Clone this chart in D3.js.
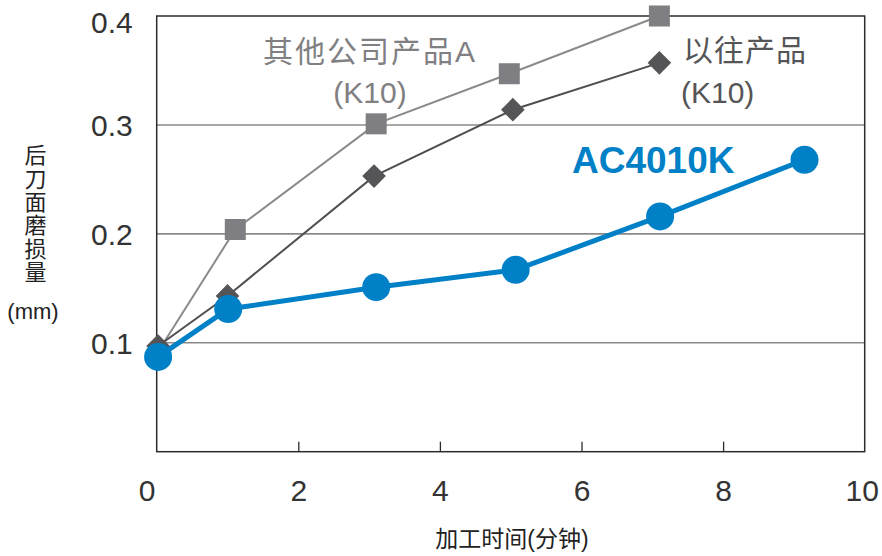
<!DOCTYPE html>
<html>
<head>
<meta charset="utf-8">
<script src="https://cdn.jsdelivr.net/npm/d3@7"></script>
<style>
  body { margin: 0; background: #fff; }
  text { font-family: "Liberation Sans", Arial, "Noto Sans CJK SC", sans-serif; }
  .cjk { font-family: "Liberation Sans", "Noto Sans CJK SC", sans-serif; }
</style>
</head>
<body>
<div id="chart"></div>
<script>
// Data
const xTicks = [0, 2, 4, 6, 8, 10];
const yTicks = [0.1, 0.2, 0.3, 0.4];

const otherX = [0.05, 1.11, 3.1, 4.98, 7.1];
const otherY = [0.095, 0.204, 0.301, 0.347, 0.4];

const oldX = [0.02, 1.0, 3.07, 5.03, 7.1];
const oldY = [0.097, 0.143, 0.253, 0.314, 0.357];

const acX = [0.02, 1.01, 3.1, 5.07, 7.11, 9.15];
const acY = [0.087, 0.131, 0.151, 0.167, 0.216, 0.268];

const width = 882;
const height = 556;
const plotLeft = 156.7, plotRight = 864.7, plotTop = 16, plotBottom = 451.7;

const svg = d3.select("#chart")
  .append("svg")
  .attr("width", width)
  .attr("height", height);

const x = d3.scaleLinear().domain([0, 10]).range([plotLeft, plotRight]);
const y = d3.scaleLinear().domain([0, 0.4]).range([plotBottom, plotTop]);

// Horizontal grid lines
svg.selectAll("line.grid")
  .data(yTicks.filter((d) => d < 0.4))
  .enter()
  .append("line")
  .attr("class", "grid")
  .attr("x1", plotLeft)
  .attr("x2", plotRight)
  .attr("y1", (d) => y(d))
  .attr("y2", (d) => y(d))
  .attr("stroke", "#8a8a8a")
  .attr("stroke-width", 1.6);

// Frame
svg.append("rect")
  .attr("x", plotLeft)
  .attr("y", plotTop)
  .attr("width", plotRight - plotLeft)
  .attr("height", plotBottom - plotTop)
  .attr("fill", "none")
  .attr("stroke", "#2b2b2b")
  .attr("stroke-width", 1.5);

// Bottom axis: inward ticks
const xAxis = svg.append("g")
  .attr("transform", `translate(0,${plotBottom})`)
  .call(d3.axisBottom(x).tickValues(xTicks).tickSize(-10).tickPadding(28).tickFormat(d3.format("d")));
xAxis.select(".domain").remove();
xAxis.selectAll(".tick line")
  .attr("stroke", "#2b2b2b")
  .attr("stroke-width", 1.3)
  .attr("opacity", (d) => (d === 0 || d === 10 ? 0 : 1));
xAxis.selectAll(".tick text")
  .attr("font-size", 30)
  .attr("fill", "#333")
  .attr("font-family", "Liberation Sans, Arial, sans-serif")
  .attr("dx", (d) => (d === 0 ? -10 : d === 10 ? -3 : 0));

// Left axis labels
const yAxis = svg.append("g")
  .attr("transform", `translate(${plotLeft},0)`)
  .call(d3.axisLeft(y).tickValues(yTicks).tickSize(0).tickPadding(24).tickFormat(d3.format(".1f")));
yAxis.select(".domain").remove();
yAxis.selectAll(".tick text")
  .attr("font-size", 30)
  .attr("fill", "#333")
  .attr("font-family", "Liberation Sans, Arial, sans-serif")
  .attr("dy", (d) => (d === 0.4 ? "0.55em" : "0.36em"));

// Axis titles
svg.append("text")
  .attr("class", "cjk")
  .attr("x", 512)
  .attr("y", 547)
  .attr("text-anchor", "middle")
  .attr("font-size", 23)
  .attr("fill", "#222")
  .text("加工时间(分钟)");

// Vertical y title as one text run
svg.append("text")
  .attr("class", "cjk")
  .attr("x", 33)
  .attr("y", 144)
  .attr("font-size", 22)
  .attr("letter-spacing", 1.3)
  .attr("fill", "#222")
  .style("writing-mode", "vertical-rl")
  .style("text-orientation", "upright")
  .text("后刀面磨损量");

svg.append("text")
  .attr("x", 33)
  .attr("y", 319)
  .attr("text-anchor", "middle")
  .attr("font-size", 22)
  .attr("fill", "#222")
  .text("(mm)");

const line = d3.line().x((d) => x(d[0])).y((d) => y(d[1]));

// Other company product A (K10): grey squares
const otherPts = otherX.map((d, i) => [d, otherY[i]]);
svg.append("path")
  .datum(otherPts)
  .attr("d", line)
  .attr("fill", "none")
  .attr("stroke", "#8a8a8c")
  .attr("stroke-width", 2);
svg.selectAll("rect.other")
  .data(otherPts.slice(1))
  .enter()
  .append("rect")
  .attr("class", "other")
  .attr("x", (d) => x(d[0]) - 10.5)
  .attr("y", (d) => y(d[1]) - 10.5)
  .attr("width", 21)
  .attr("height", 21)
  .attr("fill", "#7f7f83");

// Previous product (K10): dark diamonds
const oldPts = oldX.map((d, i) => [d, oldY[i]]);
svg.append("path")
  .datum(oldPts)
  .attr("d", line)
  .attr("fill", "none")
  .attr("stroke", "#4f4f51")
  .attr("stroke-width", 2);
svg.selectAll("path.old")
  .data(oldPts)
  .enter()
  .append("path")
  .attr("class", "old")
  .attr("d", d3.symbol().type(d3.symbolSquare).size(280))
  .attr("transform", (d) => `translate(${x(d[0])},${y(d[1])}) rotate(45)`)
  .attr("fill", "#555557");

// AC4010K: blue circles
const acPts = acX.map((d, i) => [d, acY[i]]);
svg.append("path")
  .datum(acPts)
  .attr("d", line)
  .attr("fill", "none")
  .attr("stroke", "#0080c6")
  .attr("stroke-width", 5);
svg.selectAll("circle.ac")
  .data(acPts)
  .enter()
  .append("circle")
  .attr("class", "ac")
  .attr("cx", (d) => x(d[0]))
  .attr("cy", (d) => y(d[1]))
  .attr("r", 14)
  .attr("fill", "#0080c6");

// Series labels
svg.append("text")
  .attr("class", "cjk")
  .attr("x", 370)
  .attr("y", 62)
  .attr("text-anchor", "middle")
  .attr("font-size", 30)
  .attr("letter-spacing", 2)
  .attr("fill", "#808083")
  .text("其他公司产品A");
svg.append("text")
  .attr("x", 370)
  .attr("y", 103)
  .attr("text-anchor", "middle")
  .attr("font-size", 30)
  .attr("fill", "#808083")
  .text("(K10)");

svg.append("text")
  .attr("class", "cjk")
  .attr("x", 683)
  .attr("y", 61)
  .attr("font-size", 30)
  .attr("letter-spacing", 1)
  .attr("fill", "#555557")
  .text("以往产品");
svg.append("text")
  .attr("x", 681)
  .attr("y", 103)
  .attr("font-size", 30)
  .attr("fill", "#555557")
  .text("(K10)");

svg.append("text")
  .attr("x", 572)
  .attr("y", 173)
  .attr("font-size", 37)
  .attr("font-weight", "bold")
  .attr("fill", "#0080c6")
  .text("AC4010K");
</script>
</body>
</html>
